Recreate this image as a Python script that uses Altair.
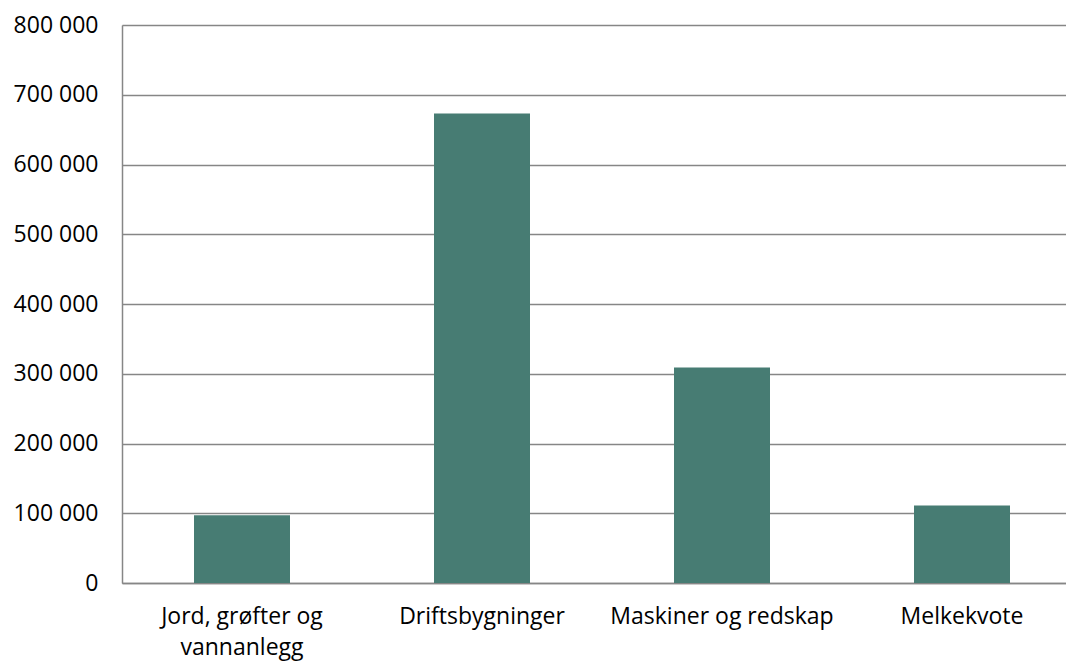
import altair as alt
import pandas as pd

categories = ["Jord, grøfter og vannanlegg", "Driftsbygninger", "Maskiner og redskap", "Melkekvote"]
values = [97000, 673000, 309000, 111000]
y_ticks = [0, 100000, 200000, 300000, 400000, 500000, 600000, 700000, 800000]

df = pd.DataFrame({"kategori": categories, "verdi": values})

font = "Open Sans"

chart = alt.Chart(df).mark_bar(color="#477c73").encode(
    x=alt.X("kategori:N", sort=categories, title=None,
            scale=alt.Scale(paddingInner=0.6, paddingOuter=0.3, range=[0, 960]),
            axis=alt.Axis(labelAngle=0, ticks=False, domainColor="#868686", domainWidth=1.5,
                          labelFont=font, labelFontSize=23, labelColor="#000000",
                          labelPadding=22, labelLineHeight=31, labelLimit=300,
                          labelExpr="datum.label == 'Jord, grøfter og vannanlegg' ? ['Jord, grøfter og', 'vannanlegg'] : datum.label")),
    y=alt.Y("verdi:Q", title=None,
            scale=alt.Scale(domain=[0, 800000], nice=False),
            axis=alt.Axis(values=y_ticks, ticks=False, domainColor="#868686", domainWidth=1.5,
                          gridColor="#868686", gridWidth=1.5, grid=True,
                          labelFont=font, labelFontSize=23, labelColor="#000000",
                          labelPadding=24,
                          labelExpr="replace(format(datum.value, ','), ',', ' ')")),
).properties(
    width=944, height=558,
    autosize=alt.AutoSizeParams(type="none"),
    padding={"left": 114, "top": 17, "right": 0, "bottom": 78},
).configure_view(stroke=None).configure(background="white")

chart.save("out.html", embed_options={"renderer": "svg", "actions": False})
